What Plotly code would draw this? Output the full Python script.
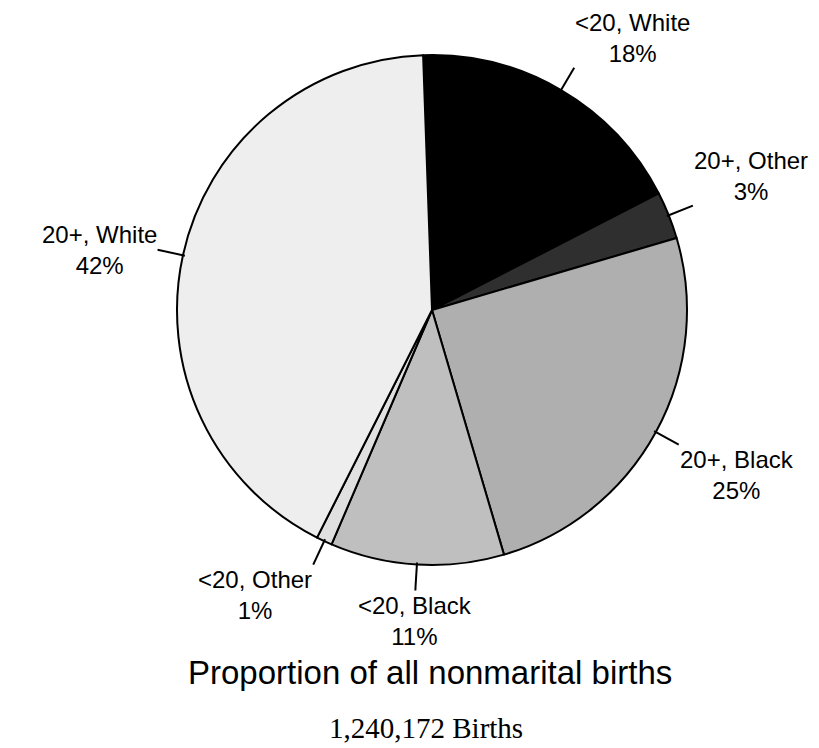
import math
import plotly.graph_objects as go

# ---- data ----
categories = ["<20, White", "20+, Other", "20+, Black", "<20, Black", "<20, Other", "20+, White"]
shares = [18, 3, 25, 11, 1, 42]
slice_colors = ["#000000", "#2f2f2f", "#afafaf", "#bfbfbf", "#e0e0e0", "#eeeeee"]
title_text = "Proportion of all nonmarital births"
subtitle_text = "1,240,172 Births"

# ---- layout geometry ----
W, H = 819, 748
cx, cy, r = 424, 302, 255
rotation = -2
label_font = dict(family="Liberation Sans, Arial, sans-serif", size=24, color="black")


def px(x):
    return x / W


def py(y):
    return 1 - y / H


fig = go.Figure(
    go.Pie(
        labels=categories,
        values=shares,
        sort=False,
        direction="clockwise",
        rotation=rotation,
        marker=dict(colors=slice_colors, line=dict(color="black", width=2)),
        textinfo="none",
        hoverinfo="label+percent",
        showlegend=False,
        domain=dict(x=[px(cx - r), px(cx + r)], y=[py(cy + r), py(cy - r)]),
    )
)

total = sum(shares)
shapes = []
annotations = []
start = rotation
for cat, v in zip(categories, shares):
    span = 360 * v / total
    mid = math.radians(start + span / 2)
    start += span
    s, c = math.sin(mid), math.cos(mid)
    x0, y0 = cx + (r - 2) * s, cy - (r - 2) * c
    x1, y1 = cx + (r + 26) * s, cy - (r + 26) * c
    shapes.append(dict(type="line", xref="paper", yref="paper",
                       x0=px(x0), y0=py(y0), x1=px(x1), y1=py(y1),
                       line=dict(color="black", width=2)))
    xa = "left" if s > 0.3 else ("right" if s < -0.3 else "center")
    ya = "bottom" if c > 0.3 else ("top" if c < -0.3 else "middle")
    annotations.append(dict(
        text=cat.replace("<", "&lt;") + "<br>" + f"{v}%",
        x=px(x1), y=py(y1), xref="paper", yref="paper",
        xanchor=xa, yanchor=ya, showarrow=False, align="center",
        font=label_font, borderpad=0,
    ))

annotations.append(dict(text=title_text, x=px(422), y=py(664), xref="paper", yref="paper",
                        xanchor="center", yanchor="middle", showarrow=False, borderpad=0,
                        font=dict(family="Liberation Sans, Arial, sans-serif", size=33, color="black")))
annotations.append(dict(text=subtitle_text, x=px(418), y=py(720), xref="paper", yref="paper",
                        xanchor="center", yanchor="middle", showarrow=False, borderpad=0,
                        font=dict(family="Liberation Serif, Times New Roman, serif", size=29, color="black")))

fig.update_layout(
    width=W, height=H,
    margin=dict(l=0, r=0, t=0, b=0),
    paper_bgcolor="white", plot_bgcolor="white",
    shapes=shapes, annotations=annotations,
)

fig.write_html("out.html")
